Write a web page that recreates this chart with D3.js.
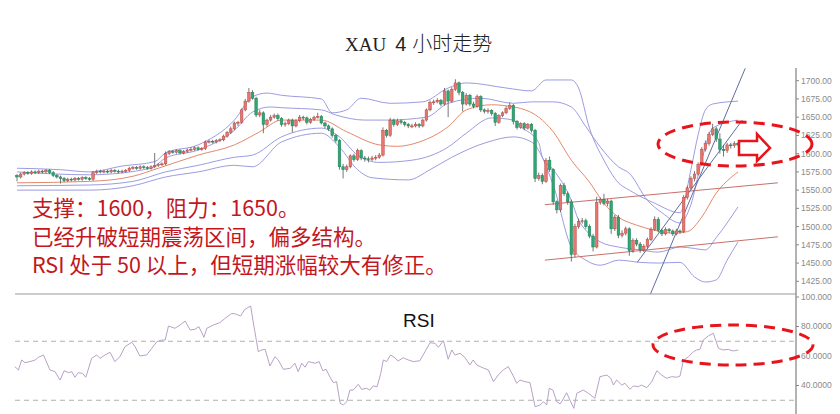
<!DOCTYPE html>
<html><head><meta charset="utf-8">
<script src="https://cdn.jsdelivr.net/npm/d3@7"></script>
<style>html,body{margin:0;padding:0;background:#fff;}svg{display:block;}</style>
</head><body>
<svg id="c" width="840" height="414"></svg>
<script>
// ---------- data ----------
const closes = [1568,1572,1574,1573,1575,1574,1576,1575,1577,1574,
 1570,1568,1566,1563,1565,1564,1566,1565,1567,1566,
 1565,1574,1576,1575,1576,1575,1577,1576,1575,1576,
 1577,1580,1581,1580,1582,1581,1580,1582,1584,1585,
 1586,1600,1603,1602,1604,1601,1603,1605,1606,1608,
 1606,1607,1616,1617,1616,1618,1619,1624,1629,1634,
 1642,1643,1660,1672,1684,1676,1653,1656,1640,1646,
 1650,1652,1648,1640,1641,1646,1638,1645,1650,1649,
 1643,1647,1650,1651,1642,1638,1634,1625,1618,1582,
 1578,1582,1597,1592,1604,1594,1593,1592,1594,1595,
 1598,1632,1625,1646,1640,1645,1643,1640,1638,1638,
 1640,1638,1646,1660,1670,1671,1673,1668,1686,1672,
 1688,1697,1684,1668,1680,1668,1665,1678,1660,1658,
 1659,1655,1643,1652,1656,1662,1666,1644,1636,1641,
 1635,1640,1632,1566,1570,1562,1591,1578,1534,1523,
 1556,1545,1534,1462,1500,1507,1508,1500,1487,1472,
 1533,1537,1532,1535,1497,1513,1488,1491,1497,1467,
 1481,1476,1468,1473,1482,1496,1510,1495,1490,1496,
 1494,1490,1494,1493,1540,1553,1566,1572,1585,1606,
 1614,1626,1634,1620,1606,1604,1612,1611,1614,1612];
const opens = [1570,1568,1572,1574,1573,1575,1574,1576,1575,1577,
 1574,1570,1568,1566,1563,1565,1564,1566,1565,1567,
 1566,1565,1574,1576,1575,1576,1575,1577,1576,1575,
 1576,1577,1580,1581,1580,1582,1581,1580,1582,1584,
 1585,1586,1600,1603,1602,1604,1601,1603,1605,1606,
 1608,1606,1607,1616,1617,1616,1618,1619,1624,1629,
 1634,1642,1643,1660,1672,1684,1676,1653,1656,1640,
 1646,1650,1652,1648,1640,1641,1646,1638,1645,1650,
 1649,1643,1647,1650,1651,1642,1638,1634,1625,1618,
 1582,1578,1582,1597,1592,1604,1594,1593,1592,1594,
 1595,1598,1632,1625,1646,1640,1645,1643,1640,1638,
 1638,1640,1638,1646,1660,1670,1671,1673,1668,1686,
 1672,1688,1697,1684,1668,1680,1668,1665,1678,1660,
 1658,1659,1655,1643,1652,1656,1662,1666,1644,1636,
 1641,1635,1640,1632,1566,1570,1562,1591,1578,1534,
 1523,1556,1545,1534,1462,1500,1507,1508,1500,1487,
 1472,1533,1537,1532,1535,1497,1513,1488,1491,1497,
 1467,1481,1476,1468,1473,1482,1496,1510,1495,1490,
 1496,1494,1490,1494,1493,1540,1553,1566,1572,1585,
 1606,1614,1626,1634,1620,1606,1604,1612,1611,1614];
const highs = [1572,1574,1576,1576,1577,1577,1578,1578,1579,1579,
 1576,1572,1570,1568,1567,1567,1568,1568,1569,1569,
 1568,1576,1578,1578,1578,1578,1579,1579,1578,1578,
 1579,1582,1583,1583,1584,1584,1583,1584,1601,1587,
 1588,1603,1605,1605,1606,1606,1605,1607,1609,1610,
 1610,1609,1618,1619,1619,1620,1621,1626,1631,1637,
 1644,1645,1662,1675,1690,1687,1678,1660,1658,1648,
 1653,1655,1655,1650,1644,1648,1648,1647,1653,1652,
 1651,1649,1652,1656,1653,1644,1640,1636,1627,1620,
 1586,1585,1599,1600,1607,1606,1597,1596,1597,1598,
 1601,1636,1634,1649,1648,1648,1647,1645,1642,1641,
 1643,1642,1648,1662,1673,1674,1676,1675,1690,1688,
 1691,1702,1699,1686,1683,1682,1671,1681,1680,1662,
 1662,1661,1657,1654,1658,1665,1670,1668,1646,1643,
 1643,1642,1642,1634,1574,1573,1594,1596,1580,1536,
 1559,1560,1548,1537,1504,1511,1512,1511,1503,1490,
 1541,1540,1545,1538,1537,1516,1516,1495,1500,1499,
 1484,1484,1479,1476,1485,1499,1514,1513,1497,1499,
 1498,1496,1497,1496,1543,1556,1569,1576,1588,1609,
 1618,1630,1641,1637,1628,1612,1615,1615,1617,1616];
const lows = [1562,1566,1570,1571,1571,1572,1572,1573,1573,1572,
 1568,1566,1559,1561,1561,1562,1562,1563,1563,1564,
 1563,1563,1572,1573,1573,1573,1573,1574,1573,1573,
 1574,1575,1578,1578,1578,1579,1578,1578,1580,1582,
 1583,1584,1598,1600,1600,1599,1599,1601,1603,1604,
 1604,1604,1605,1614,1614,1614,1616,1617,1622,1627,
 1632,1638,1641,1658,1670,1674,1650,1650,1628,1637,
 1644,1648,1645,1637,1637,1639,1629,1636,1643,1646,
 1640,1641,1645,1648,1640,1635,1631,1622,1615,1578,
 1566,1575,1580,1589,1590,1591,1589,1588,1590,1591,
 1593,1596,1622,1623,1637,1638,1640,1637,1635,1635,
 1636,1635,1636,1644,1658,1667,1669,1665,1666,1650,
 1670,1686,1680,1658,1666,1665,1662,1663,1657,1655,
 1655,1652,1638,1641,1650,1654,1660,1640,1633,1634,
 1632,1633,1629,1561,1563,1558,1560,1575,1530,1518,
 1520,1542,1530,1452,1458,1497,1504,1497,1484,1466,
 1470,1530,1529,1528,1490,1494,1484,1485,1488,1460,
 1464,1473,1464,1465,1470,1480,1494,1492,1487,1488,
 1491,1487,1488,1490,1491,1537,1550,1562,1570,1583,
 1603,1611,1624,1616,1600,1596,1601,1607,1608,1610];

// Bollinger-style envelope lines: [candle index, price]
const bandUpper2 = [[0,1580],[12,1578],[20,1575],[29,1583],[38,1589],[41,1601],[50,1612],[60,1646],[65,1678],[69,1683],[73,1680],[84,1675],[87,1656],[91,1660],[95,1676],[103,1669],[112,1671],[119,1690],[124,1697],[135,1690],[142,1686],[146,1701],[153,1701],[155,1690],[158,1635],[162,1591],[166,1560],[169,1550],[176,1532],[183,1519],[186,1578],[188,1626],[190,1660],[192,1668],[199,1672]];
const bandUpper1 = [[0,1575],[20,1571],[37,1580],[41,1594],[50,1605],[60,1632],[65,1657],[70,1664],[73,1663],[84,1660],[88,1653],[96,1646],[102,1646],[113,1650],[119,1669],[128,1676],[137,1669],[142,1671],[148,1671],[153,1664],[157,1637],[161,1609],[166,1582],[169,1573],[174,1536],[178,1519],[183,1505],[186,1530],[189,1591],[192,1635],[199,1646]];
const bandMid = [[0,1560],[20,1562],[32,1569],[39,1580],[50,1598],[60,1612],[67,1630],[73,1646],[84,1646],[91,1630],[100,1612],[105,1610],[111,1616],[119,1637],[124,1660],[131,1667],[137,1664],[139,1662],[144,1650],[148,1630],[153,1591],[158,1561],[162,1532],[166,1513],[171,1502],[176,1495],[181,1491],[185,1493],[189,1513],[193,1546],[197,1567],[199,1575]];
const bandLower1 = [[0,1556],[20,1557],[32,1562],[41,1575],[50,1584],[60,1595],[65,1598],[73,1623],[84,1635],[89,1623],[94,1598],[100,1588],[109,1591],[119,1609],[124,1628],[131,1649],[137,1646],[139,1637],[144,1615],[145,1595],[148,1578],[153,1536],[155,1509],[157,1495],[161,1479],[166,1472],[172,1468],[177,1465],[183,1472],[187,1470],[190,1468],[193,1485],[199,1527]];
const bandLower2 = [[0,1550],[20,1550],[32,1556],[41,1568],[50,1575],[60,1584],[65,1582],[73,1616],[84,1628],[89,1609],[94,1578],[98,1567],[108,1564],[114,1578],[120,1595],[130,1616],[137,1623],[142,1616],[148,1557],[153,1472],[157,1454],[161,1447],[166,1454],[172,1451],[177,1450],[183,1451],[187,1431],[190,1424],[193,1427],[196,1454],[199,1479]];

// RSI: [candle index, value]
const rsi = [[-0.6,52.8],[0.4,50.5],[1.3,57.3],[2.2,55.5],[3.6,56.2],[5.0,57.3],[5.9,59.1],[7.3,60.7],[9.1,50.5],[10.5,49.4],[11.9,43.7],[13.0,50.0],[14.2,48.7],[15.1,49.4],[16.0,45.6],[16.9,48.7],[18.1,48.2],[19.0,45.6],[20.6,58.4],[22.0,60.7],[22.9,58.4],[24.3,60.7],[25.7,62.5],[27.0,56.2],[28.4,59.5],[29.8,66.3],[31.7,69.3],[32.6,66.3],[33.9,60.0],[35.8,60.7],[37.2,65.2],[38.6,69.7],[39.9,70.8],[40.9,70.8],[41.8,80.3],[43.6,78.8],[45.0,81.0],[46.4,83.7],[47.8,77.6],[49.1,78.1],[50.2,79.9],[51.6,72.7],[52.4,78.8],[54.2,81.0],[56.0,82.6],[57.4,85.5],[59.3,88.9],[60.6,88.3],[61.7,87.1],[62.9,91.6],[64.5,93.9],[65.1,84.4],[66.6,62.9],[67.5,64.1],[68.5,64.5],[69.8,53.2],[71.2,59.5],[72.1,57.3],[73.5,51.0],[75.4,51.6],[76.7,55.1],[77.6,49.4],[78.6,55.1],[79.5,52.4],[80.4,56.2],[82.3,55.1],[83.4,56.2],[84.4,50.0],[85.3,51.0],[86.4,45.6],[87.3,41.9],[88.2,42.6],[89.2,27.9],[90.1,26.8],[91.0,29.0],[91.9,36.9],[92.8,36.9],[94.2,40.8],[95.1,37.4],[96.5,38.1],[97.4,36.9],[98.3,39.7],[99.4,39.2],[100.4,48.2],[101.1,57.3],[102.0,56.2],[103.1,60.7],[104.3,58.8],[105.2,56.6],[106.6,58.8],[108.0,57.3],[109.4,56.2],[111.2,56.8],[112.6,62.9],[114.0,69.0],[115.4,68.6],[116.3,65.9],[117.7,70.4],[119.0,57.8],[120.0,64.1],[120.9,60.7],[122.3,61.8],[123.7,58.8],[125.0,53.9],[125.9,57.3],[126.9,53.9],[128.3,52.3],[130.1,50.5],[131.5,42.6],[132.8,47.1],[134.2,50.5],[135.6,52.8],[137.0,46.4],[137.9,41.5],[138.8,43.7],[140.2,42.6],[141.6,41.9],[143.0,25.6],[144.4,26.8],[145.3,29.0],[146.2,26.8],[146.9,38.1],[147.9,36.9],[149.0,29.0],[149.9,27.5],[150.6,30.2],[151.7,35.1],[152.6,30.2],[153.7,24.5],[154.5,34.7],[156.3,36.9],[157.7,34.7],[159.5,31.3],[160.9,46.0],[162.8,47.1],[163.9,44.9],[164.6,40.3],[165.5,43.7],[166.9,40.3],[167.8,41.5],[169.2,37.4],[170.1,39.7],[171.5,39.2],[172.4,40.3],[173.8,38.5],[175.2,42.6],[176.6,50.0],[177.9,47.1],[179.3,44.9],[180.7,46.0],[182.1,45.6],[183.0,46.4],[183.9,56.8],[185.3,59.5],[186.7,62.9],[187.6,64.1],[188.5,64.5],[189.4,70.8],[190.8,73.6],[192.2,75.4],[193.6,65.2],[194.9,64.1],[196.3,64.5],[197.7,63.4],[199.1,64.1]];

// hand-drawn analysis lines: [index1, price1, index2, price2]
const trendLines = [[174.7,1406,201.0,1717],[171.2,1451,200.2,1646]];
const channelLines = [[145.7,1530,210,1560],[145.7,1454,210,1486]];

const priceTicks = [1425,1450,1475,1500,1525,1550,1575,1600,1625,1650,1675,1700];
const rsiTicks = [40,60,80,100];
const rsiTickLabels = ["40.0000","60.0000","80.0000","100.000"];
const rsiLevels = [30,70];

const titleParts = ["XAU", "4", "小时走势"];
const notes = ["支撑：1600，阻力：1650。","已经升破短期震荡区间，偏多结构。","RSI 处于 50 以上，但短期涨幅较大有修正。"];

// ---------- drawing ----------
const svg = d3.select("#c");
const x = d3.scaleLinear().domain([0, closes.length - 1]).range([17, 738]);
const y = d3.scaleLinear().domain([1425, 1700]).range([281.3, 80.7]);
const yR = d3.scaleLinear().domain([0, 100]).range([444.5, 297]);
const AX = 796;

svg.append("rect").attr("width",840).attr("height",414).attr("fill","#fff");

const defs = svg.append("defs");
defs.append("clipPath").attr("id","mainClip").append("rect").attr("x",0).attr("y",62).attr("width",AX).attr("height",294-62);
defs.append("clipPath").attr("id","rsiClip").append("rect").attr("x",0).attr("y",295).attr("width",AX).attr("height",119);

// title
const tt = svg.append("text").attr("x",345).attr("y",51).attr("fill","#222").attr("font-size",20);
tt.append("tspan").attr("font-family","'Liberation Serif', 'DejaVu Serif', serif").attr("font-size",19).text(titleParts[0]);
tt.append("tspan").attr("dx",9).attr("font-family","'Liberation Sans', Arial, sans-serif").text(titleParts[1]);
tt.append("tspan").attr("dx",6).attr("font-family","'Noto Sans CJK SC', sans-serif").attr("font-weight",300).text(titleParts[2]);

const main = svg.append("g").attr("clip-path","url(#mainClip)");

// bands
const bandLine = d3.line().x(d => x(d[0])).y(d => y(d[1])).curve(d3.curveMonotoneX);
[bandUpper2, bandUpper1, bandLower1, bandLower2].forEach(b => {
  main.append("path").attr("d", bandLine(b)).attr("fill","none").attr("stroke","#9c9ce2").attr("stroke-width",1);
});
main.append("path").attr("d", bandLine(bandMid)).attr("fill","none").attr("stroke","#e5896a").attr("stroke-width",1);

// channel + trend lines
channelLines.forEach(l => {
  main.append("line").attr("x1",x(l[0])).attr("y1",y(l[1])).attr("x2",x(l[2])).attr("y2",y(l[3]))
    .attr("stroke","#c8706a").attr("stroke-width",1);
});
trendLines.forEach(l => {
  main.append("line").attr("x1",x(l[0])).attr("y1",y(l[1])).attr("x2",x(l[2])).attr("y2",y(l[3]))
    .attr("stroke","#5f6f9f").attr("stroke-width",1);
});

// candles
const cg = main.append("g");
const bw = 2.6;
closes.forEach((c, i) => {
  const o = opens[i], up = c >= o;
  const cx = x(i);
  cg.append("line").attr("x1",cx).attr("x2",cx).attr("y1",y(highs[i])).attr("y2",y(lows[i]))
    .attr("stroke","#555").attr("stroke-width",0.8);
  const top = y(Math.max(o,c)), bot = y(Math.min(o,c));
  cg.append("rect").attr("x",cx - bw/2).attr("y",top).attr("width",bw).attr("height",Math.max(0.9, bot - top))
    .attr("fill", up ? "#e8766f" : "#30a676").attr("stroke", up ? "#b84a44" : "#1f7e55").attr("stroke-width",0.5);
});

// annotation texts
notes.forEach((t, k) => {
  svg.append("text").attr("x",32).attr("y",216 + k*28.5)
    .attr("font-family","'Noto Sans CJK SC', sans-serif").attr("font-size",21.5).attr("fill","#c3161d")
    .text(t);
});

// right axis
svg.append("line").attr("x1",AX).attr("x2",AX).attr("y1",68).attr("y2",414).attr("stroke","#666").attr("stroke-width",1);
const axG = svg.append("g");
priceTicks.forEach(v => {
  axG.append("line").attr("x1",AX).attr("x2",AX+3).attr("y1",y(v)).attr("y2",y(v)).attr("stroke","#888");
  axG.append("text").attr("x",AX+5).attr("y",y(v)).attr("dy","0.35em").attr("font-family","'Liberation Sans', Arial, sans-serif")
    .attr("font-size",8.5).attr("fill","#8a8a8a").text(d3.format(".2f")(v));
});
rsiTicks.forEach((v, k) => {
  axG.append("line").attr("x1",AX).attr("x2",AX+3).attr("y1",yR(v)).attr("y2",yR(v)).attr("stroke","#888");
  axG.append("text").attr("x",AX+5).attr("y",yR(v)).attr("dy","0.35em").attr("font-family","'Liberation Sans', Arial, sans-serif")
    .attr("font-size",8.5).attr("fill","#8a8a8a").text(rsiTickLabels[k]);
});

// separator
svg.append("line").attr("x1",15).attr("x2",AX).attr("y1",294).attr("y2",294).attr("stroke","#999").attr("stroke-width",1);

// RSI panel
const rg = svg.append("g").attr("clip-path","url(#rsiClip)");
rsiLevels.forEach(v => {
  rg.append("line").attr("x1",15).attr("x2",AX).attr("y1",yR(v)).attr("y2",yR(v))
    .attr("stroke","#b0b0b0").attr("stroke-width",1).attr("stroke-dasharray","5,4");
});
rg.append("path").attr("d", d3.line().x(d => x(d[0])).y(d => yR(d[1]))(rsi))
  .attr("fill","none").attr("stroke","#b8a2c6").attr("stroke-width",1);
svg.append("text").attr("x",403).attr("y",327).attr("font-family","'Liberation Sans', Arial, sans-serif")
  .attr("font-size",19).attr("fill","#111").text("RSI");

// red dashed highlight ellipses and arrow
svg.append("ellipse").attr("cx",735).attr("cy",144).attr("rx",77).attr("ry",22)
  .attr("fill","none").attr("stroke","#e8141c").attr("stroke-width",3).attr("stroke-dasharray","11,7");
svg.append("ellipse").attr("cx",733).attr("cy",345).attr("rx",80).attr("ry",20)
  .attr("fill","none").attr("stroke","#e8141c").attr("stroke-width",3).attr("stroke-dasharray","11,7");
svg.append("polygon").attr("points","739,141 757,141 757,134 770,148 757,161 757,155 739,155")
  .attr("fill","#fff").attr("stroke","#e8141c").attr("stroke-width",2.5);
</script>
</body></html>
